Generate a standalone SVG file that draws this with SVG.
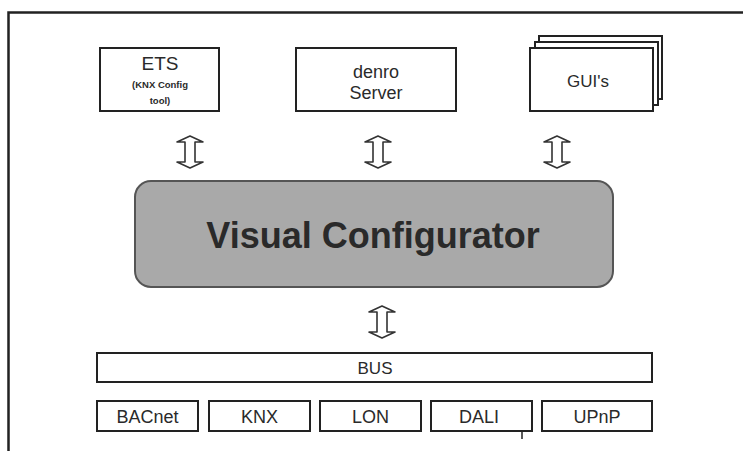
<svg xmlns="http://www.w3.org/2000/svg" width="743" height="451" viewBox="0 0 743 451">
<style>
.box{fill:#fff;stroke:#222;stroke-width:2}
.t{font-family:"Liberation Sans",Arial,sans-serif;fill:#2a2a2a;text-anchor:middle}
.arr{fill:#fff;stroke:#333;stroke-width:1.6;stroke-linejoin:round}
</style>
<rect x="0" y="0" width="743" height="451" fill="#fff"/>
<g id="frame"><path d="M8.5,451 L8.5,12.5 L743,12.5" fill="none" stroke="#222" stroke-width="2.5"/></g>
<g id="ets">
<rect class="box" x="100" y="48" width="119" height="63"/>
<text class="t" x="160" y="70" font-size="19">ETS</text>
<text class="t" x="160" y="88" font-size="9.5" font-weight="bold">(KNX Config</text>
<text class="t" x="160" y="104" font-size="9.5" font-weight="bold">tool)</text>
</g>
<g id="denro">
<rect class="box" x="296" y="48" width="160" height="63"/>
<text class="t" x="376" y="78" font-size="18">denro</text>
<text class="t" x="376" y="99" font-size="18">Server</text>
</g>
<g id="guis">
<rect class="box" x="539" y="36" width="123" height="63"/>
<rect class="box" x="535" y="42" width="123" height="63"/>
<rect class="box" x="530" y="48" width="123" height="63"/>
<text class="t" x="588" y="87" font-size="17">GUI's</text>
</g>
<g id="vc">
<rect x="135" y="181" width="478" height="106" rx="16" fill="#a9a9a9" stroke="#555" stroke-width="2"/>
<text class="t" x="373" y="248" font-size="36" font-weight="bold">Visual Configurator</text>
</g>
<g id="bus">
<rect class="box" x="97" y="353" width="555" height="29"/>
<text class="t" x="375" y="374" font-size="17">BUS</text>
</g>
<g id="bacnet"><rect class="box" x="97" y="401" width="101" height="30"/><text class="t" x="147.5" y="423" font-size="18">BACnet</text></g>
<g id="knx"><rect class="box" x="209" y="401" width="101" height="30"/><text class="t" x="259.5" y="423" font-size="18">KNX</text></g>
<g id="lon"><rect class="box" x="320" y="401" width="101" height="30"/><text class="t" x="370.5" y="423" font-size="18">LON</text></g>
<g id="dali"><rect class="box" x="431" y="401" width="101" height="30"/><text class="t" x="479" y="423" font-size="18">DALI</text><line x1="522" y1="431" x2="522" y2="439" stroke="#222" stroke-width="1.5"/></g>
<g id="upnp"><rect class="box" x="542" y="401" width="110" height="30"/><text class="t" x="597" y="423" font-size="18">UPnP</text></g>
<g id="connectors">
<path class="arr" d="M190,136 L203,142 L195,142 L195,162 L203,162 L190,168 L177,162 L185,162 L185,142 L177,142 Z"/>
<path class="arr" d="M378,136 L391,142 L383,142 L383,162 L391,162 L378,168 L365,162 L373,162 L373,142 L365,142 Z"/>
<path class="arr" d="M557,136 L570,142 L562,142 L562,162 L570,162 L557,168 L544,162 L552,162 L552,142 L544,142 Z"/>
<path class="arr" d="M382,306 L395,312 L387,312 L387,332 L395,332 L382,338 L369,332 L377,332 L377,312 L369,312 Z"/>
</g>
</svg>
